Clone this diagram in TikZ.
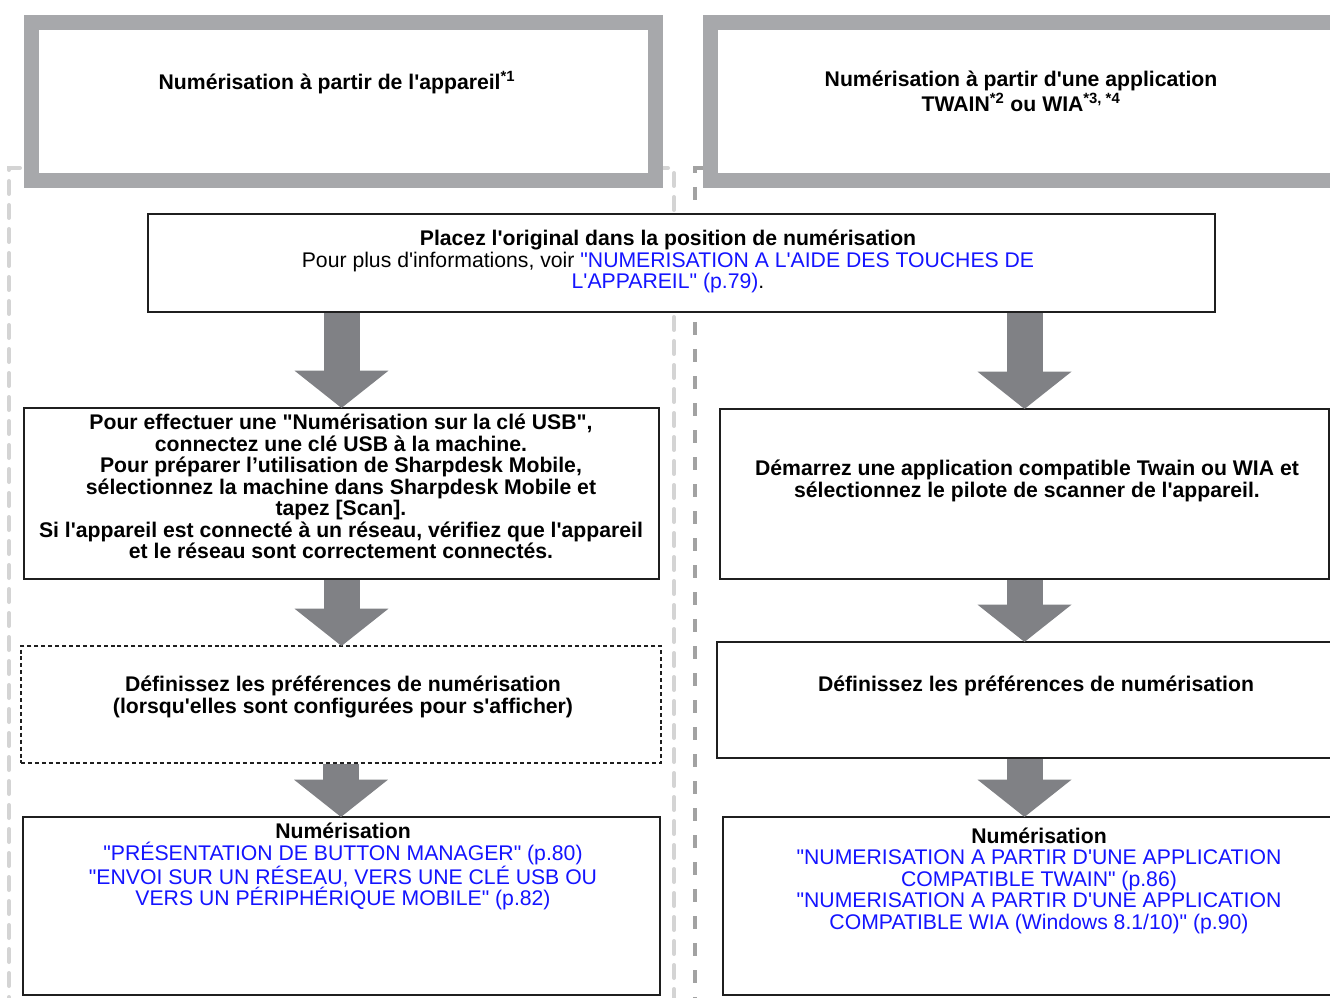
\documentclass[tikz,border=0pt]{standalone}
\usepackage{fontspec}
\setmainfont{Liberation Sans}[Ligatures=TeXOff]
\usetikzlibrary{arrows.meta}

\definecolor{hdrgray}{RGB}{167,168,171}
\definecolor{arrgray}{RGB}{128,129,133}
\definecolor{dashlight}{RGB}{212,212,212}
\definecolor{dashdark}{RGB}{162,162,162}
\definecolor{linkblue}{RGB}{20,20,255}
\newcommand{\lnk}[1]{\textcolor{linkblue}{#1}}

\begin{document}
\begin{tikzpicture}[x=0.75pt,y=-0.75pt,
  hdrbox/.style={draw=hdrgray,fill=white,line width=11.25pt,anchor=north west,inner sep=0pt,outer sep=0pt},
  stepbox/.style={draw=black!88,fill=white,line width=1.9pt,anchor=north west,inner sep=0pt,outer sep=0pt},
  optbox/.style={stepbox,dash pattern=on 3pt off 2.2pt},
  lbl/.style={align=center,inner sep=0pt,font=\fontsize{15.9}{16.1}\selectfont},
  boldlbl/.style={lbl,font=\fontsize{15.9}{16.1}\selectfont\bfseries},
  bigarrow/.style={draw=arrgray,line width=27pt,shorten <=1pt,-{Triangle[width=69pt,length=28pt]}}]

  \clip (0,0) rectangle (1330,998);

  % -- COLUMN FRAMES -------------------------------------------------
  \draw[dashlight,line width=3pt,line cap=round,dash pattern=on 9.75pt off 8.25pt]
    (9,1010) -- (9,168) -- (674,168) -- (674,1010);
  \draw[dashdark,line width=3pt,dash pattern=on 9.75pt off 10.5pt]
    (703,168) -- (695,168) -- (695,1010);

  % -- HEADERS -------------------------------------------------------
  \node[hdrbox,minimum width=0.75*624pt,minimum height=0.75*158pt] (headL) at (31.5,22.5) {};
  \node[hdrbox,minimum width=0.75*660pt,minimum height=0.75*158pt] (headR) at (710.5,22.5) {};
  \node[boldlbl] (headLtxt) at (337,82.5) {Numérisation à partir de l'appareil\textsuperscript{*1}};
  \node[boldlbl] (headRtxt) at (1021,91.5) {Numérisation à partir d'une application\\
    TWAIN\textsuperscript{*2} ou WIA\textsuperscript{*3, *4}};

  % -- STEPS ---------------------------------------------------------
  \node[stepbox,minimum width=0.75*1067pt,minimum height=0.75*98pt] (place) at (148,214) {};
  \node[stepbox,minimum width=0.75*635pt,minimum height=0.75*171pt] (usb) at (24,408) {};
  \node[optbox,minimum width=0.75*640pt,minimum height=0.75*117pt] (prefL) at (21,646) {};
  \node[stepbox,minimum width=0.75*637pt,minimum height=0.75*178pt] (scanL) at (23,817) {};
  \node[stepbox,minimum width=0.75*609pt,minimum height=0.75*170pt] (twain) at (720,409) {};
  \node[stepbox,minimum width=0.75*640pt,minimum height=0.75*116pt] (prefR) at (717,642) {};
  \node[stepbox,minimum width=0.75*640pt,minimum height=0.75*178pt] (scanR) at (723,817) {};

  \node[lbl] (placeTxt) at (668,261.5) {{\bfseries Placez l'original dans la position de numérisation}\\
    Pour plus d'informations, voir \lnk{"NUMERISATION A L'AIDE DES TOUCHES DE}\\
    \lnk{L'APPAREIL" (p.79)}.};
  \node[boldlbl] (usbTxt) at (341,486.5) {Pour effectuer une "Numérisation sur la clé USB",\\
    connectez une clé USB à la machine.\\
    Pour préparer l’utilisation de Sharpdesk Mobile,\\
    sélectionnez la machine dans Sharpdesk Mobile et\\
    tapez [Scan].\\
    Si l'appareil est connecté à un réseau, vérifiez que l'appareil\\
    et le réseau sont correctement connectés.};
  \node[boldlbl] (prefLTxt) at (343,697) {Définissez les préférences de numérisation\\
    (lorsqu'elles sont configurées pour s'afficher)};
  \node[lbl] (scanLTxt) at (343,866.5) {{\bfseries Numérisation}\\
    \lnk{"PRÉSENTATION DE BUTTON MANAGER" (p.80)}\\
    \lnk{"ENVOI SUR UN RÉSEAU, VERS UNE CLÉ USB OU}\\
    \lnk{VERS UN PÉRIPHÉRIQUE MOBILE" (p.82)}};
  \node[boldlbl] (twainTxt) at (1027,481) {Démarrez une application compatible Twain ou WIA et\\
    sélectionnez le pilote de scanner de l'appareil.};
  \node[boldlbl] (prefRTxt) at (1036,686) {Définissez les préférences de numérisation};
  \node[lbl] (scanRTxt) at (1039,880.5) {{\bfseries Numérisation}\\
    \lnk{"NUMERISATION A PARTIR D'UNE APPLICATION}\\
    \lnk{COMPATIBLE TWAIN" (p.86)}\\
    \lnk{"NUMERISATION A PARTIR D'UNE APPLICATION}\\
    \lnk{COMPATIBLE WIA (Windows 8.1/10)" (p.90)}};

  % -- ARROWS --------------------------------------------------------
  \draw[bigarrow] (place.south -| usb.north) -- (usb.north);
  \draw[bigarrow] (usb.south) -- (usb.south |- prefL.north);
  \draw[bigarrow] (prefL.south) -- (prefL.south |- scanL.north);
  \draw[bigarrow] (place.south -| twain.north) -- (twain.north);
  \draw[bigarrow] (twain.south) -- (twain.south |- prefR.north);
  \draw[bigarrow] (twain.south |- prefR.south) -- (twain.south |- scanR.north);

\end{tikzpicture}
\end{document}
